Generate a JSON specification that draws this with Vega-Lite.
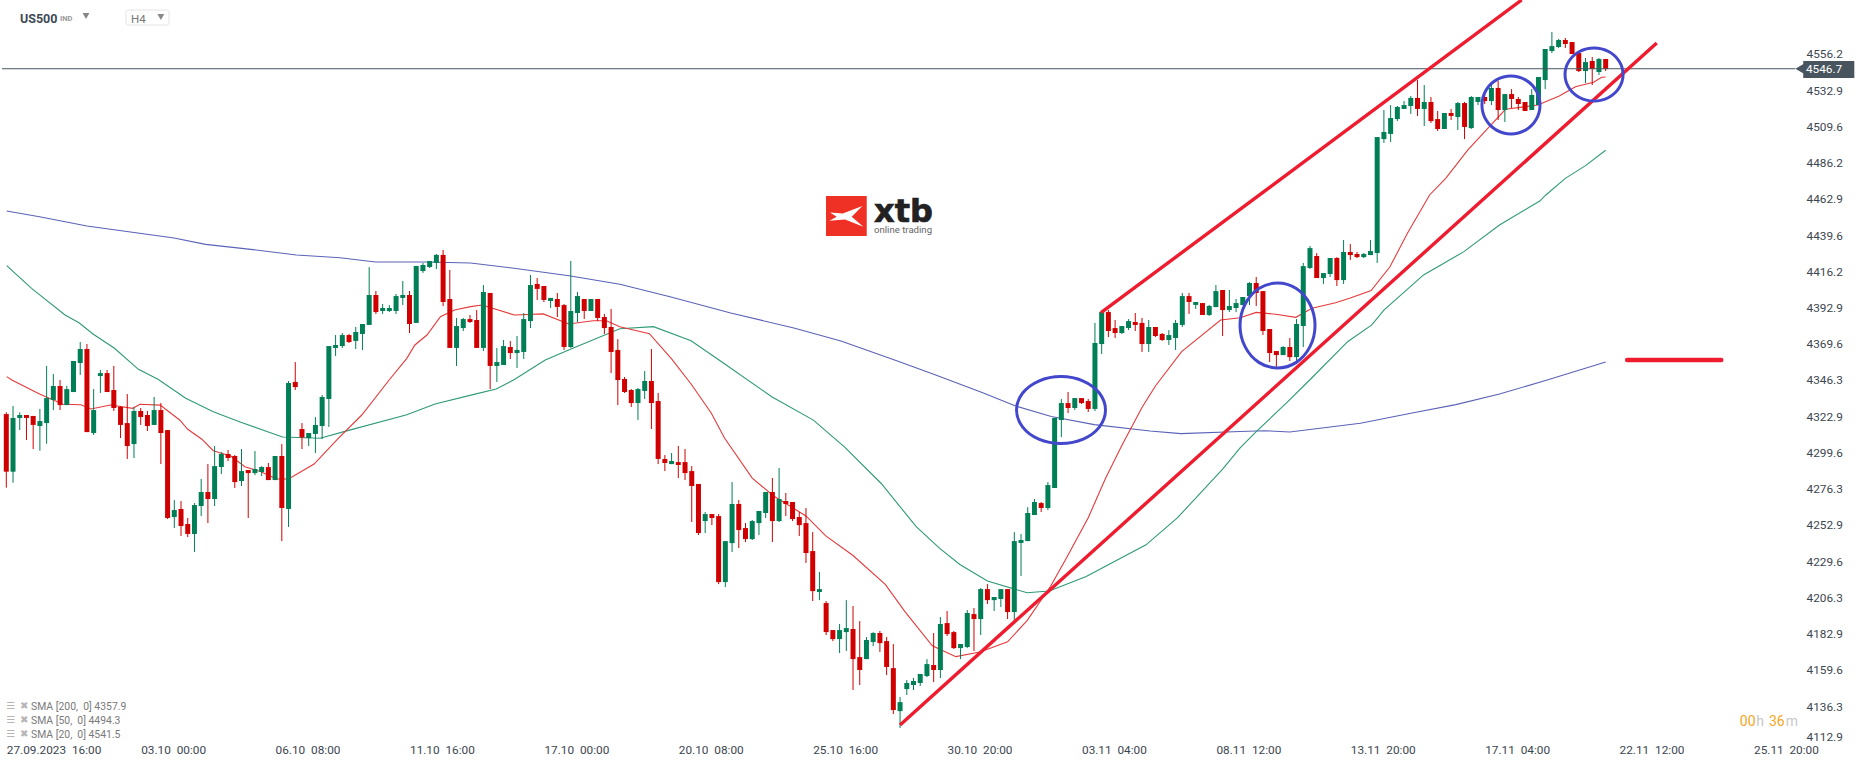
{"$schema":"https://vega.github.io/schema/vega-lite/v6.json","width":1866,"height":767,"padding":0,"autosize":{"type":"none"},"background":"white","config":{"font":"Roboto","view":{"stroke":null}},
"datasets":{
"candles":[
{"i":0,"o":4324.3,"h":4325.4,"l":4276.9,"c":4287.2},{"i":1,"o":4287.2,"h":4329.5,"l":4280.1,"c":4321.8},{"i":2,"o":4321.8,"h":4325.4,"l":4314.0,"c":4323.7},{"i":3,"o":4323.7,"h":4323.7,"l":4307.6,"c":4321.8},{"i":4,"o":4323.1,"h":4323.1,"l":4301.8,"c":4317.3},{"i":5,"o":4316.6,"h":4327.6,"l":4300.7,"c":4319.8},{"i":6,"o":4318.5,"h":4355.3,"l":4305.2,"c":4334.6},{"i":7,"o":4333.4,"h":4350.1,"l":4326.9,"c":4342.4},{"i":8,"o":4342.4,"h":4346.2,"l":4326.9,"c":4330.1},{"i":9,"o":4330.1,"h":4342.4,"l":4330.1,"c":4340.4},
{"i":10,"o":4338.5,"h":4358.5,"l":4338.5,"c":4358.5},{"i":11,"o":4357.2,"h":4370.7,"l":4349.5,"c":4366.2},{"i":12,"o":4366.2,"h":4369.4,"l":4312.7,"c":4312.7},{"i":13,"o":4312.1,"h":4340.4,"l":4310.8,"c":4326.9},{"i":14,"o":4348.8,"h":4352.7,"l":4337.9,"c":4350.7},{"i":15,"o":4350.7,"h":4352.7,"l":4338.5,"c":4338.5},{"i":16,"o":4339.8,"h":4355.3,"l":4326.3,"c":4328.2},{"i":17,"o":4328.9,"h":4329.5,"l":4308.9,"c":4317.3},{"i":18,"o":4318.5,"h":4337.2,"l":4295.4,"c":4303.7},{"i":19,"o":4305.0,"h":4328.6,"l":4296.0,"c":4326.3},
{"i":20,"o":4326.3,"h":4328.2,"l":4317.3,"c":4322.4},{"i":21,"o":4323.7,"h":4326.3,"l":4313.4,"c":4316.6},{"i":22,"o":4317.3,"h":4335.3,"l":4317.3,"c":4326.9},{"i":23,"o":4326.9,"h":4331.4,"l":4292.1,"c":4312.1},{"i":24,"o":4314.0,"h":4314.0,"l":4256.7,"c":4257.4},{"i":25,"o":4258.0,"h":4268.9,"l":4250.9,"c":4262.5},{"i":26,"o":4263.2,"h":4268.3,"l":4245.8,"c":4252.2},{"i":27,"o":4253.5,"h":4257.4,"l":4245.1,"c":4247.1},{"i":28,"o":4247.1,"h":4267.0,"l":4235.5,"c":4265.7},{"i":29,"o":4265.1,"h":4282.5,"l":4258.6,"c":4274.1},
{"i":30,"o":4274.1,"h":4292.1,"l":4254.1,"c":4269.6},{"i":31,"o":4269.6,"h":4303.7,"l":4265.1,"c":4290.8},{"i":32,"o":4290.2,"h":4299.9,"l":4285.7,"c":4298.6},{"i":33,"o":4298.6,"h":4301.2,"l":4294.1,"c":4296.0},{"i":34,"o":4297.3,"h":4297.9,"l":4276.7,"c":4280.5},{"i":35,"o":4281.2,"h":4301.8,"l":4278.0,"c":4287.6},{"i":36,"o":4288.3,"h":4288.3,"l":4257.4,"c":4286.3},{"i":37,"o":4286.3,"h":4300.5,"l":4285.0,"c":4288.9},{"i":38,"o":4287.0,"h":4290.8,"l":4284.4,"c":4290.2},{"i":39,"o":4290.2,"h":4292.8,"l":4281.8,"c":4281.8},
{"i":40,"o":4281.8,"h":4297.3,"l":4281.8,"c":4297.3},{"i":41,"o":4297.3,"h":4305.0,"l":4242.5,"c":4263.8},{"i":42,"o":4263.2,"h":4345.6,"l":4251.6,"c":4344.3},{"i":43,"o":4345.0,"h":4357.8,"l":4339.8,"c":4341.7},{"i":44,"o":4314.7,"h":4318.5,"l":4301.8,"c":4309.3},{"i":45,"o":4308.9,"h":4312.1,"l":4303.7,"c":4312.1},{"i":46,"o":4311.5,"h":4322.4,"l":4299.2,"c":4317.3},{"i":47,"o":4316.6,"h":4336.6,"l":4308.2,"c":4335.3},{"i":48,"o":4334.0,"h":4368.1,"l":4316.0,"c":4368.1},{"i":49,"o":4366.9,"h":4375.2,"l":4361.7,"c":4368.8},
{"i":50,"o":4368.1,"h":4376.5,"l":4366.9,"c":4375.2},{"i":51,"o":4375.2,"h":4375.9,"l":4370.1,"c":4370.7},{"i":52,"o":4371.4,"h":4380.4,"l":4366.2,"c":4377.2},{"i":53,"o":4375.9,"h":4382.3,"l":4365.6,"c":4382.3},{"i":54,"o":4381.7,"h":4419.0,"l":4381.7,"c":4401.0},{"i":55,"o":4401.0,"h":4403.6,"l":4388.8,"c":4390.0},{"i":56,"o":4390.7,"h":4395.2,"l":4388.8,"c":4392.6},{"i":57,"o":4390.7,"h":4394.5,"l":4390.0,"c":4392.6},{"i":58,"o":4390.7,"h":4401.6,"l":4388.8,"c":4400.3},{"i":59,"o":4399.1,"h":4410.0,"l":4394.5,"c":4401.0},
{"i":60,"o":4401.0,"h":4403.6,"l":4376.5,"c":4382.3},{"i":61,"o":4383.0,"h":4419.7,"l":4383.0,"c":4419.7},{"i":62,"o":4416.4,"h":4421.6,"l":4415.2,"c":4420.3},{"i":63,"o":4419.0,"h":4422.9,"l":4418.4,"c":4422.9},{"i":64,"o":4421.6,"h":4427.4,"l":4417.7,"c":4426.8},{"i":65,"o":4426.8,"h":4430.0,"l":4393.9,"c":4396.5},{"i":66,"o":4398.4,"h":4417.1,"l":4366.9,"c":4366.9},{"i":67,"o":4366.9,"h":4386.2,"l":4355.3,"c":4381.0},{"i":68,"o":4379.7,"h":4386.2,"l":4377.8,"c":4385.5},{"i":69,"o":4385.5,"h":4388.1,"l":4383.0,"c":4383.6},
{"i":70,"o":4384.9,"h":4391.3,"l":4366.9,"c":4366.9},{"i":71,"o":4366.9,"h":4407.4,"l":4364.9,"c":4402.9},{"i":72,"o":4402.3,"h":4402.3,"l":4340.4,"c":4355.3},{"i":73,"o":4355.3,"h":4366.9,"l":4345.0,"c":4357.8},{"i":74,"o":4355.9,"h":4372.0,"l":4355.9,"c":4368.1},{"i":75,"o":4367.5,"h":4371.4,"l":4359.8,"c":4363.6},{"i":76,"o":4363.6,"h":4374.6,"l":4354.0,"c":4365.6},{"i":77,"o":4364.3,"h":4389.4,"l":4359.8,"c":4385.5},{"i":78,"o":4384.2,"h":4413.9,"l":4379.7,"c":4407.4},{"i":79,"o":4408.1,"h":4411.9,"l":4397.8,"c":4404.9},
{"i":80,"o":4406.8,"h":4406.8,"l":4396.5,"c":4397.8},{"i":81,"o":4397.1,"h":4399.1,"l":4392.6,"c":4399.1},{"i":82,"o":4398.4,"h":4402.3,"l":4386.8,"c":4393.3},{"i":83,"o":4394.5,"h":4395.2,"l":4365.6,"c":4367.5},{"i":84,"o":4367.5,"h":4422.9,"l":4366.9,"c":4390.7},{"i":85,"o":4389.4,"h":4402.9,"l":4383.6,"c":4400.3},{"i":86,"o":4398.4,"h":4398.4,"l":4385.5,"c":4390.7},{"i":87,"o":4390.7,"h":4398.4,"l":4390.7,"c":4398.4},{"i":88,"o":4398.4,"h":4398.4,"l":4384.2,"c":4386.2},{"i":89,"o":4386.8,"h":4388.8,"l":4375.9,"c":4379.7},
{"i":90,"o":4380.4,"h":4392.0,"l":4350.7,"c":4364.3},{"i":91,"o":4365.6,"h":4372.6,"l":4330.1,"c":4346.2},{"i":92,"o":4346.9,"h":4348.2,"l":4337.9,"c":4338.5},{"i":93,"o":4339.8,"h":4340.4,"l":4328.9,"c":4331.4},{"i":94,"o":4331.4,"h":4341.1,"l":4320.5,"c":4340.4},{"i":95,"o":4339.2,"h":4352.0,"l":4334.0,"c":4345.6},{"i":96,"o":4345.6,"h":4366.2,"l":4314.7,"c":4331.4},{"i":97,"o":4332.7,"h":4337.9,"l":4292.1,"c":4295.4},{"i":98,"o":4295.4,"h":4297.9,"l":4287.6,"c":4292.8},{"i":99,"o":4292.1,"h":4299.2,"l":4292.1,"c":4294.1},
{"i":100,"o":4293.4,"h":4303.7,"l":4283.1,"c":4291.5},{"i":101,"o":4293.4,"h":4301.8,"l":4281.8,"c":4286.3},{"i":102,"o":4287.6,"h":4290.8,"l":4254.8,"c":4278.0},{"i":103,"o":4279.3,"h":4279.3,"l":4246.4,"c":4247.7},{"i":104,"o":4255.4,"h":4261.2,"l":4247.7,"c":4259.9},{"i":105,"o":4259.9,"h":4259.9,"l":4252.8,"c":4257.4},{"i":106,"o":4258.6,"h":4259.9,"l":4214.8,"c":4216.1},{"i":107,"o":4216.1,"h":4242.5,"l":4212.9,"c":4242.5},{"i":108,"o":4241.2,"h":4280.5,"l":4235.5,"c":4266.4},{"i":109,"o":4266.4,"h":4268.9,"l":4238.0,"c":4249.6},
{"i":110,"o":4250.9,"h":4254.1,"l":4241.9,"c":4243.8},{"i":111,"o":4243.8,"h":4256.1,"l":4243.2,"c":4255.4},{"i":112,"o":4254.1,"h":4261.9,"l":4246.4,"c":4261.9},{"i":113,"o":4260.6,"h":4274.1,"l":4257.4,"c":4274.1},{"i":114,"o":4274.1,"h":4283.1,"l":4241.9,"c":4255.4},{"i":115,"o":4255.4,"h":4289.6,"l":4254.8,"c":4269.6},{"i":116,"o":4268.3,"h":4273.5,"l":4258.6,"c":4266.4},{"i":117,"o":4267.7,"h":4267.7,"l":4255.4,"c":4256.7},{"i":118,"o":4258.0,"h":4261.2,"l":4245.8,"c":4252.8},{"i":119,"o":4254.1,"h":4263.8,"l":4228.4,"c":4234.8},
{"i":120,"o":4236.1,"h":4248.3,"l":4203.9,"c":4210.3},{"i":121,"o":4209.7,"h":4222.6,"l":4204.5,"c":4211.6},{"i":122,"o":4202.6,"h":4203.9,"l":4182.0,"c":4183.9},{"i":123,"o":4185.2,"h":4185.2,"l":4178.1,"c":4179.4},{"i":124,"o":4179.4,"h":4189.1,"l":4170.4,"c":4185.2},{"i":125,"o":4183.9,"h":4204.5,"l":4171.7,"c":4186.5},{"i":126,"o":4185.9,"h":4200.7,"l":4146.6,"c":4166.5},{"i":127,"o":4167.8,"h":4191.0,"l":4149.8,"c":4159.5},{"i":128,"o":4166.5,"h":4180.7,"l":4166.5,"c":4178.8},{"i":129,"o":4177.5,"h":4183.9,"l":4174.9,"c":4183.3},
{"i":130,"o":4183.3,"h":4184.6,"l":4171.1,"c":4176.8},{"i":131,"o":4178.1,"h":4180.7,"l":4156.2,"c":4161.4},{"i":132,"o":4160.7,"h":4176.2,"l":4131.1,"c":4133.7},{"i":133,"o":4133.0,"h":4142.1,"l":4122.1,"c":4138.8},{"i":134,"o":4147.2,"h":4153.0,"l":4143.4,"c":4151.1},{"i":135,"o":4149.8,"h":4154.3,"l":4146.6,"c":4152.4},{"i":136,"o":4151.1,"h":4156.9,"l":4149.2,"c":4156.9},{"i":137,"o":4155.6,"h":4166.5,"l":4154.9,"c":4163.3},{"i":138,"o":4162.7,"h":4183.3,"l":4151.7,"c":4159.5},{"i":139,"o":4159.5,"h":4193.6,"l":4154.3,"c":4189.1},
{"i":140,"o":4189.7,"h":4197.5,"l":4181.4,"c":4182.6},{"i":141,"o":4183.9,"h":4184.6,"l":4173.0,"c":4173.6},{"i":142,"o":4173.6,"h":4176.2,"l":4166.5,"c":4176.2},{"i":143,"o":4174.3,"h":4198.1,"l":4173.6,"c":4196.2},{"i":144,"o":4195.5,"h":4199.4,"l":4171.7,"c":4192.3},{"i":145,"o":4192.3,"h":4212.3,"l":4182.0,"c":4211.6},{"i":146,"o":4211.6,"h":4214.8,"l":4202.0,"c":4204.5},{"i":147,"o":4204.5,"h":4206.5,"l":4197.5,"c":4206.5},{"i":148,"o":4205.2,"h":4211.6,"l":4200.0,"c":4211.6},{"i":149,"o":4211.6,"h":4211.6,"l":4192.3,"c":4196.8},
{"i":150,"o":4196.8,"h":4248.3,"l":4190.4,"c":4242.5},{"i":151,"o":4241.3,"h":4247.1,"l":4220.0,"c":4243.2},{"i":152,"o":4242.5,"h":4264.4,"l":4242.5,"c":4260.6},{"i":153,"o":4259.3,"h":4269.6,"l":4259.3,"c":4267.7},{"i":154,"o":4267.0,"h":4267.7,"l":4261.2,"c":4263.8},{"i":155,"o":4263.8,"h":4280.5,"l":4262.5,"c":4278.6},{"i":156,"o":4276.7,"h":4321.8,"l":4276.7,"c":4321.8},{"i":157,"o":4320.5,"h":4334.0,"l":4309.5,"c":4331.4},{"i":158,"o":4331.4,"h":4338.5,"l":4325.0,"c":4328.2},{"i":159,"o":4328.2,"h":4334.6,"l":4326.9,"c":4334.6},
{"i":160,"o":4334.6,"h":4334.6,"l":4330.8,"c":4331.4},{"i":161,"o":4332.7,"h":4334.0,"l":4325.6,"c":4327.6},{"i":162,"o":4327.6,"h":4383.0,"l":4326.3,"c":4370.1},{"i":163,"o":4369.4,"h":4390.0,"l":4363.0,"c":4390.0},{"i":164,"o":4390.0,"h":4391.3,"l":4373.9,"c":4377.8},{"i":165,"o":4379.7,"h":4384.9,"l":4373.3,"c":4376.5},{"i":166,"o":4376.5,"h":4381.0,"l":4375.9,"c":4381.0},{"i":167,"o":4379.7,"h":4385.5,"l":4378.4,"c":4384.2},{"i":168,"o":4383.6,"h":4389.4,"l":4377.8,"c":4381.7},{"i":169,"o":4383.0,"h":4386.2,"l":4364.3,"c":4369.4},
{"i":170,"o":4369.4,"h":4384.9,"l":4364.3,"c":4380.4},{"i":171,"o":4380.4,"h":4380.4,"l":4373.9,"c":4374.6},{"i":172,"o":4375.9,"h":4376.5,"l":4371.4,"c":4372.0},{"i":173,"o":4372.0,"h":4378.4,"l":4368.8,"c":4375.2},{"i":174,"o":4373.3,"h":4384.9,"l":4365.6,"c":4383.0},{"i":175,"o":4381.7,"h":4402.3,"l":4380.4,"c":4400.3},{"i":176,"o":4400.3,"h":4402.3,"l":4388.8,"c":4396.5},{"i":177,"o":4394.6,"h":4396.5,"l":4392.0,"c":4396.5},{"i":178,"o":4395.8,"h":4395.8,"l":4388.1,"c":4388.1},{"i":179,"o":4388.1,"h":4394.6,"l":4387.5,"c":4393.9},
{"i":180,"o":4393.2,"h":4407.4,"l":4393.2,"c":4403.5},{"i":181,"o":4404.2,"h":4404.2,"l":4374.6,"c":4391.3},{"i":182,"o":4391.3,"h":4404.2,"l":4390.0,"c":4393.9},{"i":183,"o":4392.6,"h":4398.4,"l":4390.0,"c":4395.8},{"i":184,"o":4394.5,"h":4399.7,"l":4394.5,"c":4399.7},{"i":185,"o":4400.3,"h":4409.3,"l":4394.5,"c":4408.7},{"i":186,"o":4408.7,"h":4412.6,"l":4393.9,"c":4402.3},{"i":187,"o":4403.5,"h":4403.5,"l":4375.2,"c":4377.8},{"i":188,"o":4379.1,"h":4379.1,"l":4357.8,"c":4363.6},{"i":189,"o":4364.9,"h":4364.9,"l":4354.6,"c":4362.3},
{"i":190,"o":4362.3,"h":4368.1,"l":4362.3,"c":4367.5},{"i":191,"o":4367.5,"h":4373.3,"l":4358.5,"c":4361.0},{"i":192,"o":4361.0,"h":4385.5,"l":4358.5,"c":4382.3},{"i":193,"o":4381.0,"h":4421.6,"l":4367.5,"c":4419.6},{"i":194,"o":4418.4,"h":4432.5,"l":4417.7,"c":4431.2},{"i":195,"o":4426.1,"h":4428.0,"l":4411.9,"c":4411.9},{"i":196,"o":4411.9,"h":4415.1,"l":4408.1,"c":4415.1},{"i":197,"o":4414.5,"h":4424.8,"l":4412.6,"c":4424.8},{"i":198,"o":4424.8,"h":4425.4,"l":4406.8,"c":4410.6},{"i":199,"o":4410.6,"h":4436.4,"l":4408.1,"c":4428.7},
{"i":200,"o":4428.7,"h":4433.8,"l":4423.5,"c":4426.7},{"i":201,"o":4427.4,"h":4428.7,"l":4424.8,"c":4425.4},{"i":202,"o":4425.4,"h":4428.0,"l":4424.8,"c":4427.4},{"i":203,"o":4426.7,"h":4436.4,"l":4426.7,"c":4429.3},{"i":204,"o":4428.0,"h":4502.7,"l":4421.6,"c":4502.7},{"i":205,"o":4501.4,"h":4520.1,"l":4498.9,"c":4506.0},{"i":206,"o":4504.7,"h":4523.3,"l":4499.5,"c":4515.0},{"i":207,"o":4514.3,"h":4522.7,"l":4513.0,"c":4522.1},{"i":208,"o":4520.8,"h":4525.9,"l":4520.8,"c":4523.3},{"i":209,"o":4522.7,"h":4529.1,"l":4517.6,"c":4527.9},
{"i":210,"o":4527.9,"h":4539.4,"l":4516.3,"c":4520.8},{"i":211,"o":4520.8,"h":4536.2,"l":4509.8,"c":4525.3},{"i":212,"o":4525.3,"h":4528.5,"l":4511.8,"c":4513.0},{"i":213,"o":4514.3,"h":4519.5,"l":4506.6,"c":4507.9},{"i":214,"o":4507.9,"h":4518.2,"l":4507.9,"c":4518.2},{"i":215,"o":4518.2,"h":4520.8,"l":4513.7,"c":4516.3},{"i":216,"o":4515.6,"h":4525.3,"l":4507.2,"c":4524.6},{"i":217,"o":4524.6,"h":4525.3,"l":4501.4,"c":4509.2},{"i":218,"o":4508.5,"h":4529.1,"l":4507.9,"c":4528.5},{"i":219,"o":4525.3,"h":4528.5,"l":4523.3,"c":4528.5},
{"i":220,"o":4528.5,"h":4530.4,"l":4524.0,"c":4525.9},{"i":221,"o":4525.9,"h":4536.2,"l":4523.3,"c":4534.3},{"i":222,"o":4534.3,"h":4538.8,"l":4513.7,"c":4520.1},{"i":223,"o":4520.1,"h":4530.4,"l":4512.4,"c":4530.4},{"i":224,"o":4530.4,"h":4533.6,"l":4521.4,"c":4527.2},{"i":225,"o":4527.2,"h":4528.5,"l":4520.1,"c":4524.0},{"i":226,"o":4525.3,"h":4525.3,"l":4519.5,"c":4519.5},{"i":227,"o":4520.1,"h":4533.6,"l":4520.1,"c":4529.8},{"i":228,"o":4523.3,"h":4541.4,"l":4523.3,"c":4541.4},{"i":229,"o":4539.4,"h":4559.4,"l":4533.6,"c":4559.4},
{"i":230,"o":4558.1,"h":4570.4,"l":4556.8,"c":4561.3},{"i":231,"o":4560.7,"h":4565.9,"l":4560.1,"c":4565.2},{"i":232,"o":4565.2,"h":4566.5,"l":4560.1,"c":4562.6},{"i":233,"o":4563.9,"h":4563.9,"l":4556.2,"c":4556.2},{"i":234,"o":4556.8,"h":4558.1,"l":4544.6,"c":4545.2},{"i":235,"o":4545.2,"h":4553.6,"l":4537.5,"c":4551.0},{"i":236,"o":4551.7,"h":4554.3,"l":4536.2,"c":4546.5},{"i":237,"o":4544.6,"h":4553.6,"l":4542.7,"c":4553.0},{"i":238,"o":4553.0,"h":4553.0,"l":4545.2,"c":4546.5}
],
"sma200":[[0.06,4455.1],[4.94,4451.4],[12.0,4445.4],[24.96,4437.7],[29.66,4433.6],[36.71,4430.2],[43.18,4426.7],[49.66,4425.0],[54.96,4422.2],[62.6,4422.2],[69.08,4421.6],[75.55,4418.2],[83.74,4413.4],[91.32,4407.9],[98.91,4399.7],[107.8,4389.4],[117.2,4379.7],[124.2,4371.4],[132.5,4358.7],[138.3,4349.5],[145.4,4337.9],[150.1,4329.6],[155.5,4322.7],[161.9,4317.5],[170.2,4313.4],[174.8,4311.7],[183.6,4313.1],[187.2,4313.6],[191.0,4312.8],[201.5,4318.4],[209.2,4325.0],[215.7,4330.4],[222.2,4337.2],[229.3,4346.2],[238.0,4357.8]],
"sma50":[[0.06,4419.9],[3.76,4405.3],[8.74,4388.1],[10.82,4383.1],[12.9,4375.9],[16.1,4366.7],[19.66,4353.1],[22.57,4346.7],[26.7,4334.5],[30.8,4325.8],[34.9,4319.0],[39.1,4312.6],[41.1,4309.5],[46.7,4308.7],[50.25,4313.0],[59.6,4323.9],[63.8,4330.8],[69.6,4337.0],[72.9,4340.5],[75.55,4346.4],[80.2,4359.1],[84.3,4366.7],[91.3,4379.3],[96.3,4380.6],[101.9,4371.5],[106.6,4357.5],[113.9,4335.5],[120.1,4320.4],[124.8,4302.9],[130.2,4279.6],[135.4,4251.8],[138.9,4237.8],[141.9,4227.4],[146.0,4216.8],[151.9,4209.2],[155.2,4210.4],[160.7,4219.7],[169.6,4240.1],[174.3,4257.6],[181.0,4288.9],[183.6,4302.5],[186.0,4313.0],[190.7,4332.3],[194.0,4346.4],[199.6,4370.9],[203.2,4381.7],[205.0,4391.3],[210.9,4413.9],[216.9,4428.9],[222.2,4446.1],[228.2,4461.5],[229.1,4465.4],[232.0,4476.1],[235.0,4484.3],[238.0,4494.2]],
"sma20":[[0.06,4348.4],[0.83,4346.2],[4.94,4337.2],[8.44,4330.6],[11.1,4330.3],[12.6,4327.6],[15.5,4330.1],[18.8,4328.0],[19.9,4330.6],[22.9,4330.1],[25.8,4320.5],[27.0,4314.5],[29.1,4308.1],[30.8,4300.7],[33.4,4297.3],[35.5,4290.4],[37.9,4287.2],[40.2,4282.5],[42.0,4282.5],[45.8,4292.1],[49.4,4308.7],[52.9,4323.7],[57.0,4346.4],[59.6,4360.2],[60.8,4368.8],[62.6,4375.2],[64.6,4387.0],[66.7,4391.3],[69.1,4393.5],[70.8,4394.5],[75.6,4388.1],[79.9,4388.8],[83.7,4382.3],[87.3,4384.4],[89.3,4384.4],[91.3,4380.5],[95.7,4376.1],[99.0,4359.9],[101.9,4343.7],[104.9,4325.0],[106.9,4308.7],[111.0,4283.1],[114.2,4271.5],[119.0,4258.7],[121.9,4246.0],[126.0,4233.2],[130.8,4214.6],[133.7,4197.2],[137.8,4175.1],[141.3,4168.1],[144.9,4171.1],[149.0,4177.6],[151.9,4191.3],[155.4,4213.4],[157.8,4232.0],[161.0,4257.6],[163.6,4283.1],[166.0,4304.1],[169.0,4328.5],[171.0,4342.4],[174.9,4364.5],[180.7,4384.9],[183.6,4386.3],[186.0,4389.8],[188.9,4388.6],[191.9,4386.6],[194.3,4392.4],[197.8,4396.0],[199.9,4398.9],[203.1,4403.8],[205.9,4419.2],[208.5,4440.7],[211.8,4465.4],[214.2,4476.1],[217.5,4494.4],[220.7,4509.4],[223.1,4520.6],[227.9,4523.3],[231.1,4529.1],[233.5,4535.1],[236.2,4538.0],[237.4,4541.2],[238.0,4541.4]]
},
"encoding":{
"x":{"field":"i","type":"quantitative","scale":{"domain":[-0.9375,276.74],"nice":false,"zero":false},"title":null,"axis":{"orient":"bottom","offset":-25,"values":[0,20,40,60,80,100,120,140,160,180,200,220,240,260],"labelExpr":"['27.09.2023\u00a0\u00a016:00','03.10\u00a0\u00a000:00','06.10\u00a0\u00a008:00','11.10\u00a0\u00a016:00','17.10\u00a0\u00a000:00','20.10\u00a0\u00a008:00','25.10\u00a0\u00a016:00','30.10\u00a0\u00a020:00','03.11\u00a0\u00a004:00','08.11\u00a0\u00a012:00','13.11\u00a0\u00a020:00','17.11\u00a0\u00a004:00','22.11\u00a0\u00a012:00','25.11\u00a0\u00a020:00'][datum.value/20]","labelAlign":"left","labelBaseline":"top","labelPadding":2,"labelFontSize":11.8,"labelFont":"Roboto","labelColor":"#3c4650","labelOverlap":false,"labelBound":false,"labelFlush":false,"domain":false,"ticks":false,"grid":false}},
"y":{"field":"p","type":"quantitative","scale":{"domain":[4097.02,4590.97],"nice":false,"zero":false},"title":null,"axis":{"orient":"right","offset":-62,"values":[4116.4,4136.3,4159.6,4182.9,4206.3,4229.6,4252.9,4276.3,4299.6,4322.9,4346.3,4369.6,4392.9,4416.2,4439.6,4462.9,4486.2,4509.6,4532.9,4556.2],"labelExpr":"datum.value==4116.4?'4112.9':format(datum.value,'.1f')","labelAlign":"left","labelBaseline":"middle","labelPadding":2,"labelFontSize":11.8,"labelFont":"Roboto","labelColor":"#3c4650","labelOverlap":false,"labelBound":false,"labelFlush":false,"domain":false,"ticks":false,"grid":false}}
},
"layer":[
{"data":{"name":"sma200"},"transform":[{"calculate":"datum[0]","as":"i"},{"calculate":"datum[1]","as":"p"}],"mark":{"type":"line","stroke":"#5a62b8","strokeWidth":1.1}},
{"data":{"name":"sma50"},"transform":[{"calculate":"datum[0]","as":"i"},{"calculate":"datum[1]","as":"p"}],"mark":{"type":"line","stroke":"#2f9a77","strokeWidth":1.1}},
{"data":{"name":"sma20"},"transform":[{"calculate":"datum[0]","as":"i"},{"calculate":"datum[1]","as":"p"}],"mark":{"type":"line","stroke":"#e63a3a","strokeWidth":1.1}},
{"data":{"name":"candles"},"transform":[{"calculate":"datum.l","as":"p"}],"mark":{"type":"rule","strokeWidth":1},"encoding":{"y2":{"field":"h"},"color":{"condition":{"test":"datum.c>=datum.o","value":"#007f56"},"value":"#d10000"}}},
{"data":{"name":"candles"},"transform":[{"calculate":"datum.o","as":"p"}],"mark":{"type":"rule","strokeWidth":5},"encoding":{"y2":{"field":"c"},"color":{"condition":{"test":"datum.c>=datum.o","value":"#007f56"},"value":"#d10000"}}},
{"data":{"values":[{"i":-0.64,"i2":266.2,"p":4546.7}]},"mark":{"type":"rule","stroke":"#465560","strokeWidth":1},"encoding":{"x2":{"field":"i2"}}},
{"data":{"values":[{"i":267.4,"i2":275.0,"p":4551.7,"p2":4540.7}]},"mark":{"type":"rect","fill":"#48555f"},"encoding":{"x2":{"field":"i2"},"y2":{"field":"p2"}}},
{"data":{"values":[{"i":266.9,"p":4546.7}]},"mark":{"type":"point","shape":"triangle-left","filled":true,"fill":"#48555f","size":110,"opacity":1}},
{"data":{"values":[{"i":267.8,"p":4546.7,"t":"4546.7"}]},"mark":{"type":"text","align":"left","baseline":"middle","fontSize":11.8,"fill":"white"},"encoding":{"text":{"field":"t"}}},
{"data":{"values":[{"g":"a","i":133.0,"p":4124.1},{"g":"a","i":245.6,"p":4563.3},{"g":"b","i":162.9,"p":4389.6},{"g":"b","i":225.5,"p":4591.0}]},"mark":{"type":"line","stroke":"#ee1c2e","strokeWidth":3.4,"clip":true},"encoding":{"detail":{"field":"g"}}},
{"data":{"values":[{"i":241.2,"p":4359.1},{"i":255.2,"p":4359.1}]},"mark":{"type":"line","stroke":"#ee1c2e","strokeWidth":4.5,"strokeCap":"round"}},
{"data":{"values":[
{"e":1,"k":0,"i":163.57,"p":4326.9},{"e":1,"k":1,"i":162.68,"p":4337.7},{"e":1,"k":2,"i":160.26,"p":4345.6},{"e":1,"k":3,"i":156.95,"p":4348.5},{"e":1,"k":4,"i":153.64,"p":4345.6},{"e":1,"k":5,"i":151.22,"p":4337.7},{"e":1,"k":6,"i":150.33,"p":4326.9},{"e":1,"k":7,"i":151.22,"p":4316.1},{"e":1,"k":8,"i":153.64,"p":4308.2},{"e":1,"k":9,"i":156.95,"p":4305.4},{"e":1,"k":10,"i":160.26,"p":4308.2},{"e":1,"k":11,"i":162.68,"p":4316.1},
{"e":2,"k":0,"i":194.75,"p":4381.4},{"e":2,"k":1,"i":194.0,"p":4395.0},{"e":2,"k":2,"i":191.96,"p":4405.1},{"e":2,"k":3,"i":189.17,"p":4408.7},{"e":2,"k":4,"i":186.38,"p":4405.1},{"e":2,"k":5,"i":184.34,"p":4395.0},{"e":2,"k":6,"i":183.59,"p":4381.4},{"e":2,"k":7,"i":184.34,"p":4367.7},{"e":2,"k":8,"i":186.38,"p":4357.6},{"e":2,"k":9,"i":189.17,"p":4354.0},{"e":2,"k":10,"i":191.96,"p":4357.6},{"e":2,"k":11,"i":194.0,"p":4367.7},
{"e":3,"k":0,"i":228.23,"p":4523.4},{"e":3,"k":1,"i":227.65,"p":4532.7},{"e":3,"k":2,"i":226.07,"p":4539.5},{"e":3,"k":3,"i":223.91,"p":4542.0},{"e":3,"k":4,"i":221.75,"p":4539.5},{"e":3,"k":5,"i":220.17,"p":4532.7},{"e":3,"k":6,"i":219.59,"p":4523.4},{"e":3,"k":7,"i":220.17,"p":4514.0},{"e":3,"k":8,"i":221.75,"p":4507.2},{"e":3,"k":9,"i":223.91,"p":4504.7},{"e":3,"k":10,"i":226.07,"p":4507.2},{"e":3,"k":11,"i":227.65,"p":4514.0},
{"e":4,"k":0,"i":240.59,"p":4543.0},{"e":4,"k":1,"i":240.01,"p":4551.5},{"e":4,"k":2,"i":238.43,"p":4557.8},{"e":4,"k":3,"i":236.27,"p":4560.1},{"e":4,"k":4,"i":234.11,"p":4557.8},{"e":4,"k":5,"i":232.53,"p":4551.5},{"e":4,"k":6,"i":231.95,"p":4543.0},{"e":4,"k":7,"i":232.53,"p":4534.5},{"e":4,"k":8,"i":234.11,"p":4528.2},{"e":4,"k":9,"i":236.27,"p":4525.9},{"e":4,"k":10,"i":238.43,"p":4528.2},{"e":4,"k":11,"i":240.01,"p":4534.5}
]},"mark":{"type":"line","stroke":"#4347cc","strokeWidth":3,"interpolate":"cardinal-closed"},"encoding":{"detail":{"field":"e"},"order":{"field":"k","type":"quantitative"}}},
{"data":{"values":[{"i":121.98,"i2":128.04,"p":4464.7,"p2":4439.0}]},"mark":{"type":"rect","fill":"#ee3124"},"encoding":{"x2":{"field":"i2"},"y2":{"field":"p2"}}},
{"data":{"values":[{"i":124.96,"p":4451.4}]},"mark":{"type":"point","shape":"M-0.96,-0.26 L-0.2,-0.2 L0.98,-0.64 L0.34,0 L1.04,0.6 L-0.06,0.16 L-1,0.24 L-0.56,0 Z","filled":true,"fill":"white","size":1112,"opacity":1}},
{"data":{"values":[{"i":129.12,"p":4448.0,"t":"xtb"}]},"mark":{"type":"text","align":"left","baseline":"alphabetic","font":"DejaVu Sans","fontWeight":"bold","fontSize":32,"fill":"#222222","stroke":"#222222","strokeWidth":0.7},"encoding":{"text":{"field":"t"}}},
{"data":{"values":[{"i":129.12,"p":4440.9,"t":"online trading"}]},"mark":{"type":"text","align":"left","baseline":"alphabetic","fontSize":9.6,"fill":"#666666"},"encoding":{"text":{"field":"t"}}},
{"data":{"values":[{"i":2.04,"p":4578.7,"t":"US500"}]},"mark":{"type":"text","align":"left","baseline":"middle","fontSize":12.5,"fontWeight":"bold","fill":"#3d4a56"},"encoding":{"text":{"field":"t"}}},
{"data":{"values":[{"i":8.0,"p":4578.7,"t":"IND"}]},"mark":{"type":"text","align":"left","baseline":"middle","fontSize":7.5,"fontWeight":"bold","fill":"#999999"},"encoding":{"text":{"field":"t"}}},
{"data":{"values":[{"i":17.81,"i2":24.21,"p":4584.5,"p2":4574.9}]},"mark":{"type":"rect","fill":"white","stroke":"#e3e3e3","strokeWidth":1,"cornerRadius":2},"encoding":{"x2":{"field":"i2"},"y2":{"field":"p2"}}},
{"data":{"values":[{"i":18.55,"p":4578.2,"t":"H4"}]},"mark":{"type":"text","align":"left","baseline":"middle","fontSize":11.5,"fill":"#777777"},"encoding":{"text":{"field":"t"}}},
{"data":{"values":[{"i":11.86,"p":4580.7},{"i":23.0,"p":4580.0}]},"mark":{"type":"point","shape":"triangle-down","filled":true,"fill":"#888888","size":48,"opacity":1}},
{"data":{"values":[{"i":3.68,"p":4135.7,"t":"SMA [200,\u00a0\u00a00] 4357.9"},{"i":3.68,"p":4126.6,"t":"SMA [50,\u00a0\u00a00] 4494.3"},{"i":3.68,"p":4117.6,"t":"SMA [20,\u00a0\u00a00] 4541.5"}]},"mark":{"type":"text","align":"left","baseline":"middle","fontSize":10.4,"fill":"#7a7a7a"},"encoding":{"text":{"field":"t"}}},
{"data":{"values":[{"i":0,"p":4136.3,"t":"☰"},{"i":2.04,"p":4136.3,"t":"✖"},{"i":0,"p":4127.2,"t":"☰"},{"i":2.04,"p":4127.2,"t":"✖"},{"i":0,"p":4118.2,"t":"☰"},{"i":2.04,"p":4118.2,"t":"✖"}]},"mark":{"type":"text","align":"left","baseline":"middle","font":"DejaVu Sans","fontSize":10,"fill":"#b5b5b5"},"encoding":{"text":{"field":"t"}}},
{"data":{"values":[{"i":257.97,"p":4126.0,"t":"00"},{"i":262.3,"p":4126.0,"t":"36"}]},"mark":{"type":"text","align":"left","baseline":"middle","fontSize":14,"fill":"#f5a623"},"encoding":{"text":{"field":"t"}}},
{"data":{"values":[{"i":260.4,"p":4126.0,"t":"h"},{"i":264.8,"p":4126.0,"t":"m"}]},"mark":{"type":"text","align":"left","baseline":"middle","fontSize":14,"fill":"#c8c8c8"},"encoding":{"text":{"field":"t"}}}
]}
